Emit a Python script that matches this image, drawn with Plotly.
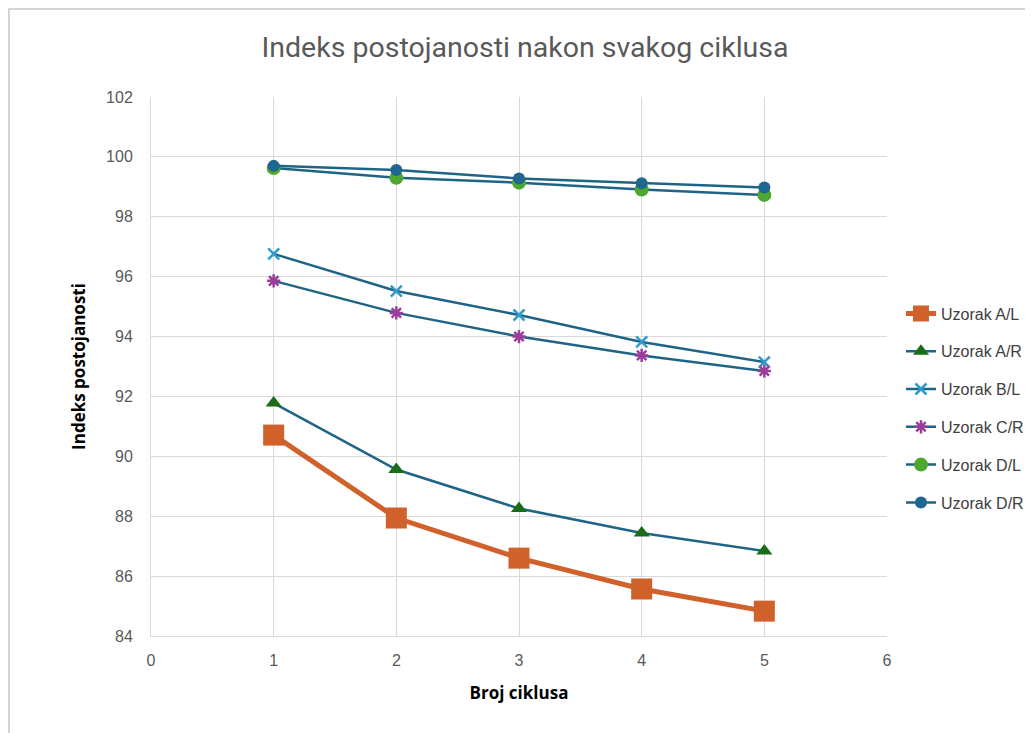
import plotly.graph_objects as go

cycles = [1, 2, 3, 4, 5]
a_l = [90.71, 87.94, 86.6, 85.57, 84.83]
a_r = [91.78, 89.56, 88.26, 87.44, 86.84]
b_l = [96.76, 95.52, 94.72, 93.82, 93.15]
c_r = [95.86, 94.79, 94.0, 93.37, 92.85]
d_l = [99.63, 99.3, 99.14, 98.91, 98.73]
d_r = [99.7, 99.56, 99.28, 99.12, 98.98]
x_ticks = [0, 1, 2, 3, 4, 5, 6]
y_ticks = [84, 86, 88, 90, 92, 94, 96, 98, 100, 102]

line_blue = "#1F6485"
series = [
    ("Uzorak A/L", a_l, dict(color="#D0612A", width=5), dict(symbol="square", size=21, color="#D0612A")),
    ("Uzorak A/R", a_r, dict(color=line_blue, width=2.5), dict(symbol="triangle-up", size=14, color="#1A6B1A")),
    ("Uzorak B/L", b_l, dict(color=line_blue, width=2.5), dict(symbol="x-thin-open", size=11, color="#2E9BCB", line=dict(width=2.5, color="#2E9BCB"))),
    ("Uzorak C/R", c_r, dict(color=line_blue, width=2.5), dict(symbol="asterisk-open", size=11, color="#9B3D9B", line=dict(width=2.5, color="#9B3D9B"))),
    ("Uzorak D/L", d_l, dict(color=line_blue, width=2.5), dict(symbol="circle", size=14, color="#4EA72E")),
    ("Uzorak D/R", d_r, dict(color=line_blue, width=2.5), dict(symbol="circle", size=12, color="#1F6690")),
]

fig = go.Figure()
for name, vals, ln, mk in series:
    fig.add_trace(go.Scatter(x=cycles, y=vals, name=name, legendgroup=name, mode="lines+markers", line=ln, marker=mk))

fig.update_layout(
    width=1033, height=733,
    paper_bgcolor="white", plot_bgcolor="white",
    margin=dict(l=143, r=154, t=89, b=105),
    title=dict(text="Indeks postojanosti nakon svakog ciklusa", x=0.5005, xanchor="center", y=0.947, yanchor="middle",
               font=dict(family="Liberation Sans Narrow, Roboto, sans-serif", size=28.5, color="#595959")),
    font=dict(family="Liberation Sans, Arial, sans-serif", color="#595959"),
    legend=dict(x=1.019, xanchor="left", y=0.423, yanchor="middle", tracegroupgap=14,
                font=dict(family="Liberation Sans, Arial, sans-serif", size=16, color="#404040"),
                itemsizing="trace", bgcolor="rgba(0,0,0,0)"),
    showlegend=True,
    shapes=[dict(type="rect", xref="paper", yref="paper", x0=-0.193, x1=1.25, y0=-0.25, y1=1.1633,
                 line=dict(color="#C8C8C8", width=1.5), fillcolor="rgba(0,0,0,0)", layer="below")],
)
fig.update_xaxes(range=[0, 6], tickvals=x_ticks, showgrid=True, gridcolor="#D9D9D9", gridwidth=1,
                 showline=True, linecolor="#D9D9D9", linewidth=1, zeroline=False, ticks="",
                 ticklabelstandoff=10,
                 tickfont=dict(size=16, color="#595959"),
                 title=dict(text="<b>Broj ciklusa</b>", font=dict(family="Open Sans, sans-serif", size=17, color="black"), standoff=18))
fig.update_yaxes(range=[84, 102], tickvals=y_ticks, showgrid=True, gridcolor="#D9D9D9", gridwidth=1,
                 showline=True, linecolor="#D9D9D9", linewidth=1, zeroline=False, ticks="",
                 ticklabelstandoff=14,
                 tickfont=dict(size=16, color="#595959"),
                 title=dict(text="<b>Indeks postojanosti</b>", font=dict(family="Open Sans, sans-serif", size=17, color="black"), standoff=16))

fig.write_html("out.html")
